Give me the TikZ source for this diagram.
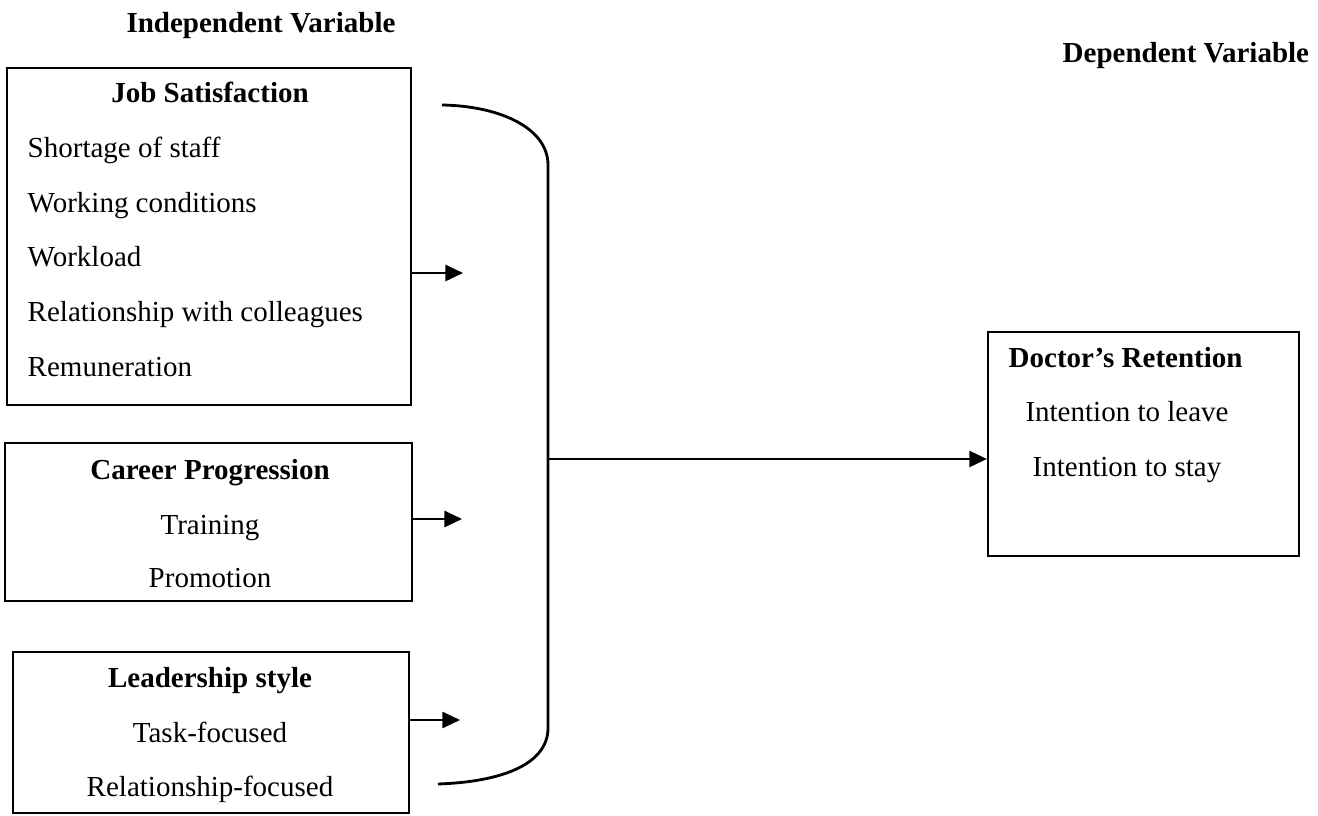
\documentclass[tikz,border=0pt]{standalone}
\usepackage{fontspec}
\setmainfont{Liberation Serif}
\usepackage{tikz}
\usetikzlibrary{arrows.meta}

\newcommand{\figfont}{\fontsize{8.25pt}{10pt}\selectfont}

\tikzset{
    varbox/.style={draw, line width=0.6pt, inner sep=0pt},
    hdr/.style={font=\figfont\bfseries, anchor=base, inner sep=0pt},
    item/.style={font=\figfont, anchor=base, inner sep=0pt},
    link/.style={line width=0.6pt, -{Triangle[length=5pt, width=4.6pt]}},
    brace/.style={line width=0.8pt}
}

\begin{document}
\begin{tikzpicture}[x=0.01cm, y=-0.01cm]
    \useasboundingbox (0,0) rectangle (1318,816);

    % Column headings
    \node[hdr] (indep) at (261,33) {Independent Variable};
    \node[hdr, anchor=base west] (dep) at (1062,63) {Dependent Variable};

    % Box 1 - Job satisfaction
    \node[varbox, minimum width=4.04cm, minimum height=3.37cm] (jobbox) at (209,236.5) {};
    \node[hdr] (jobtitle) at (210,103) {Job Satisfaction};
    \node[item, anchor=base west] (staff) at (27,158) {Shortage of staff};
    \node[item, anchor=base west] (cond) at (27,213) {Working conditions};
    \node[item, anchor=base west] (load) at (27,267) {Workload};
    \node[item, anchor=base west] (coll) at (27,322) {Relationship with colleagues};
    \node[item, anchor=base west] (pay) at (27,377) {Remuneration};

    % Box 2 - Career progression
    \node[varbox, minimum width=4.07cm, minimum height=1.58cm] (carbox) at (208.5,522) {};
    \node[hdr] (cartitle) at (210,480) {Career Progression};
    \node[item] (train) at (210,535) {Training};
    \node[item] (promo) at (210,588) {Promotion};

    % Box 3 - Leadership style
    \node[varbox, minimum width=3.96cm, minimum height=1.61cm] (leadbox) at (211,732.5) {};
    \node[hdr] (leadtitle) at (210,688) {Leadership style};
    \node[item] (task) at (210,743) {Task-focused};
    \node[item] (rel) at (210,797) {Relationship-focused};

    % Box 4 - Doctor's retention
    \node[varbox, minimum width=3.11cm, minimum height=2.24cm] (retbox) at (1143.5,444) {};
    \node[hdr, anchor=base west] (rettitle) at (1008,368) {Doctor's Retention};
    \node[item] (leave) at (1127,422) {Intention to leave};
    \node[item] (stay) at (1127,477) {Intention to stay};

    % Short arrows into the brace
    \coordinate (jobtip) at (463,273);
    \coordinate (cartip) at (462,519);
    \coordinate (leadtip) at (460,720);
    \draw[link] (jobbox.east |- jobtip) -- (jobtip);
    \draw[link] (carbox.east |- cartip) -- (cartip);
    \draw[link] (leadbox.east |- leadtip) -- (leadtip);

    % Brace
    \coordinate (bracetop) at (442,105);
    \coordinate (bracebot) at (438,784);
    \coordinate (spine) at (548,459);
    \draw[brace] (bracetop) .. controls (500,106) and (548,128) .. (548,165)
        -- (548,728) .. controls (548,765) and (500,782) .. (bracebot);

    % Main arrow
    \draw[link] (spine) -- (spine -| retbox.west);
\end{tikzpicture}
\end{document}
